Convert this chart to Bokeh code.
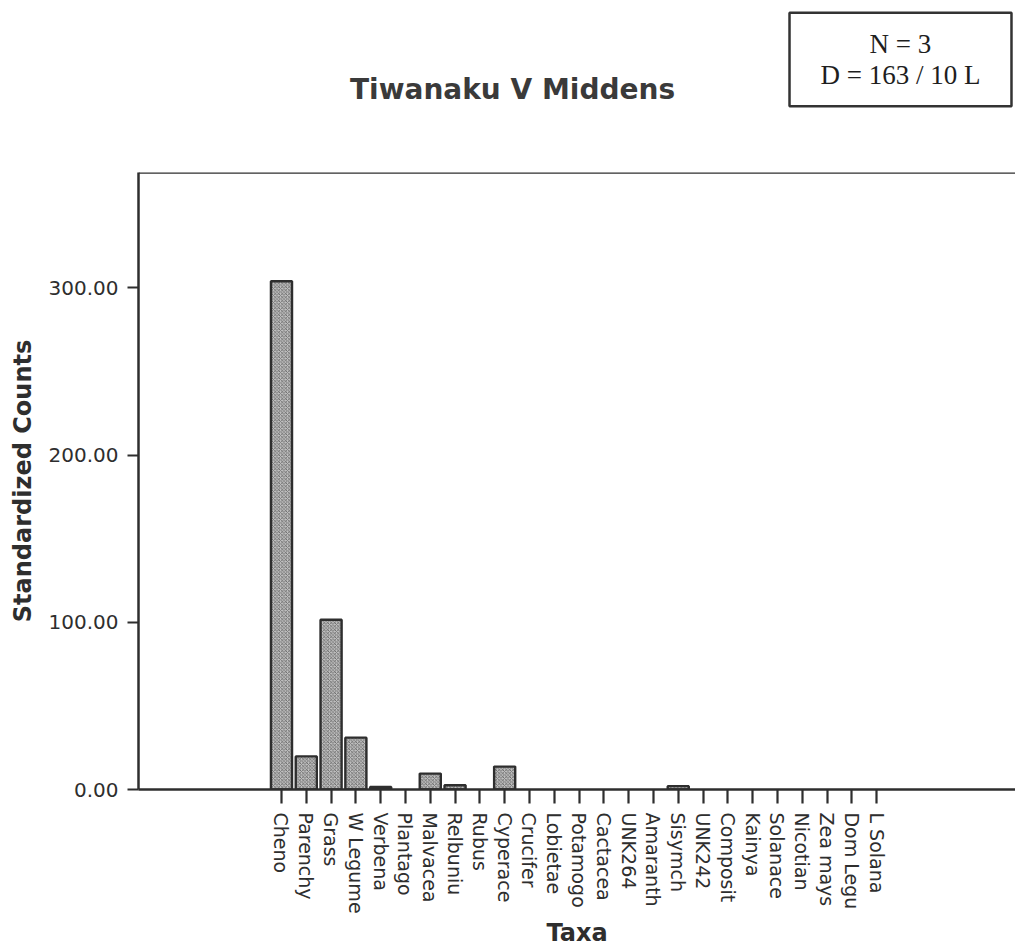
import math
from bokeh.plotting import figure
from bokeh.layouts import column
from bokeh.models import (Range1d, FixedTicker, NumeralTickFormatter, Label, Span,
                          ColumnDataSource, CDSView, BooleanFilter)
from bokeh.embed import file_html
from bokeh.resources import INLINE

taxa = ["Cheno", "Parenchy", "Grass", "W Legume", "Verbena", "Plantago", "Malvacea",
        "Relbuniu", "Rubus", "Cyperace", "Crucifer", "Lobietae", "Potamogo", "Cactacea",
        "UNK264", "Amaranth", "Sisymch", "UNK242", "Composit", "Kainya", "Solanace",
        "Nicotian", "Zea mays", "Dom Legu", "L Solana"]
counts = [304.0, 19.8, 101.5, 31.0, 1.5, 0.0, 9.5,
          2.5, 0.0, 13.7, 0.0, 0.0, 0.0, 0.0,
          0.0, 0.0, 2.0, 0.0, 0.0, 0.0, 0.0,
          0.0, 0.0, 0.0, 0.0]
y_ticks = [0, 100, 200, 300]
title_text = "Tiwanaku V Middens"
box_text = "N = 3\nD = 163 / 10 L"

ink = "#2e2e2e"
W = 1015
TOP_H = 120
FRAME_LEFT = 138

# ---- header strip (title + info box); its frame is aligned with the chart frame ----
top = figure(width=W, height=TOP_H, output_backend="svg", toolbar_location=None,
             x_range=Range1d(FRAME_LEFT, W), y_range=Range1d(TOP_H, 0),
             x_axis_type=None, y_axis_type=None,
             min_border_left=FRAME_LEFT, min_border_right=0, min_border_top=0, min_border_bottom=0)
top.outline_line_color = None
top.grid.grid_line_color = None

top.add_layout(Label(x=512, y=89, text=title_text,
                     text_align="center", text_baseline="middle",
                     text_font="DejaVu Sans", text_font_style="bold",
                     text_font_size="28px", text_color="#3a3a3a"))
top.add_layout(Label(x=900, y=59, text=box_text,
                     text_align="center", text_baseline="middle",
                     text_font="Liberation Serif", text_font_size="27px", text_color="#1e1e1e",
                     text_line_height=1.05,
                     border_line_color="#333333", border_line_width=2.5,
                     background_fill_color="white", padding=(31, 16)))

# ---- main chart ----
positions = list(range(len(taxa)))
src = ColumnDataSource(dict(x=positions, top=counts))
view = CDSView(filter=BooleanFilter([c > 0 for c in counts]))

p = figure(width=W, height=949 - TOP_H, output_backend="svg", toolbar_location=None,
           x_range=Range1d(-5.766, 29.6), y_range=Range1d(0, 369),
           min_border_left=FRAME_LEFT, min_border_top=172 - TOP_H, min_border_bottom=158,
           min_border_right=0)
p.outline_line_color = None
p.xgrid.grid_line_color = None
p.ygrid.grid_line_color = None

p.vbar(x="x", top="top", width=0.85, source=src, view=view,
       fill_color="#c0c0c0", line_color=ink, line_width=2.4,
       hatch_pattern="x", hatch_color="#505050", hatch_scale=3.5, hatch_weight=0.7)

p.add_layout(Span(location=369, dimension="width", line_color=ink, line_width=2.5))

xa = p.xaxis[0]
xa.ticker = FixedTicker(ticks=positions)
xa.major_label_overrides = {i: t for i, t in enumerate(taxa)}
xa.major_label_orientation = -math.pi / 2
xa.major_label_text_font = "DejaVu Sans"
xa.major_label_text_font_size = "19px"
xa.major_label_text_color = ink
xa.major_label_standoff = 9
xa.major_tick_out = 14
xa.major_tick_in = 0
xa.minor_tick_line_color = None
xa.major_tick_line_width = 2.2
xa.major_tick_line_color = ink
xa.axis_line_width = 2.5
xa.axis_line_color = ink
xa.axis_label = "Taxa"
xa.axis_label_text_font = "DejaVu Sans"
xa.axis_label_text_font_style = "bold"
xa.axis_label_text_font_size = "24px"
xa.axis_label_text_color = ink
xa.axis_label_standoff = 2

ya = p.yaxis[0]
ya.ticker = FixedTicker(ticks=y_ticks)
ya.formatter = NumeralTickFormatter(format="0.00")
ya.major_label_text_font = "DejaVu Sans"
ya.major_label_text_font_size = "20px"
ya.major_label_text_color = ink
ya.major_label_standoff = 9
ya.major_tick_out = 11
ya.major_tick_in = 0
ya.minor_tick_line_color = None
ya.major_tick_line_width = 2.2
ya.major_tick_line_color = ink
ya.axis_line_width = 2.5
ya.axis_line_color = ink
ya.axis_label = "Standardized Counts"
ya.axis_label_text_font = "DejaVu Sans"
ya.axis_label_text_font_style = "bold"
ya.axis_label_text_font_size = "24px"
ya.axis_label_text_color = ink
ya.axis_label_standoff = 9

layout = column(top, p, spacing=0)
open("out.html", "w").write(file_html(layout, INLINE))
